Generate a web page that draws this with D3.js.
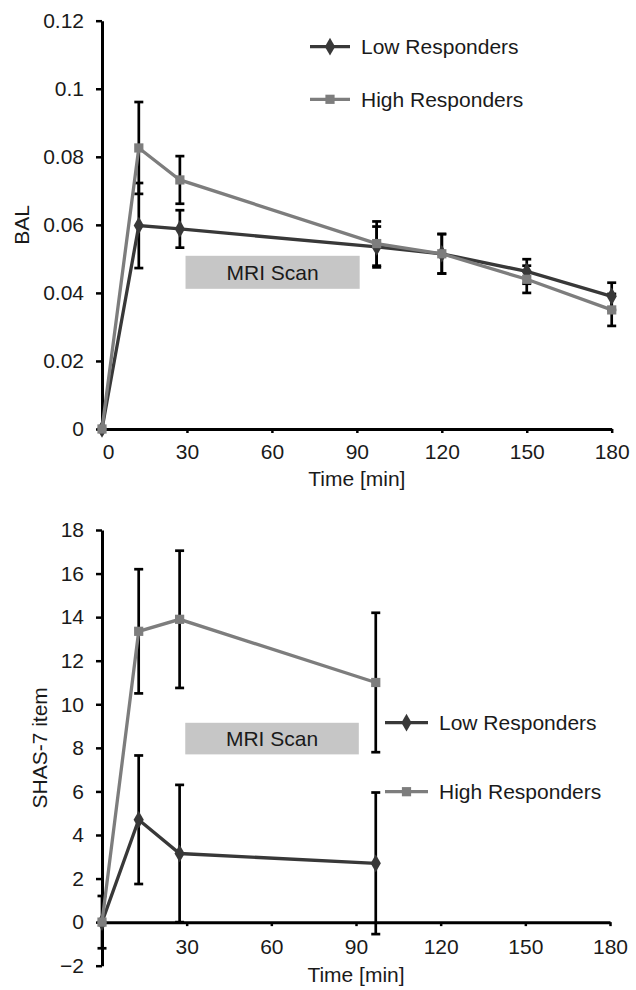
<!DOCTYPE html>
<html>
<head>
<meta charset="utf-8">
<script src="https://cdn.jsdelivr.net/npm/d3@7"></script>
<style>
  body { margin: 0; background: #fff; }
  svg text { font-family: "Liberation Sans", Arial, sans-serif; font-size: 21px; fill: #1a1a1a; }
  .axis path, .axis line { stroke: #000; }
</style>
</head>
<body>
<svg id="chart" width="636" height="990"></svg>
<script>
// time points (min)
var balTimes = [0, 13, 27.5, 97, 120, 150, 180];
var balLow = [0, 0.0598, 0.0588, 0.0535, 0.0515, 0.0463, 0.039];
var balLowErr = [0, 0.0125, 0.0055, 0.006, 0.0058, 0.0036, 0.004];
var balHigh = [0, 0.0826, 0.0732, 0.0545, 0.0515, 0.044, 0.035];
var balHighErr = [0, 0.0135, 0.007, 0.0065, 0.0058, 0.004, 0.0047];

var shasTimes = [0, 13, 27.5, 97];
var shasLow = [0, 4.7, 3.15, 2.7];
var shasLowErr = [1.2, 2.95, 3.15, 3.25];
var shasHigh = [0, 13.35, 13.9, 11.0];
var shasHighErr = [0, 2.85, 3.15, 3.2];

var xTicks = [0, 30, 60, 90, 120, 150, 180];
var balTicks = [0, 0.02, 0.04, 0.06, 0.08, 0.1, 0.12];
var shasTicks = [-2, 0, 2, 4, 6, 8, 10, 12, 14, 16, 18];
var seriesNames = ["Low Responders", "High Responders"];
var mriWindow = [29.5, 91];

var lowColor = "#383838", highColor = "#7d7d7d";
var svg = d3.select("#chart");

function zip(t, v, e) {
    return t.map(function(d, i) { return {t: d, v: v[i], e: e[i]}; });
}

function drawPanel(p) {
    var x = d3.scaleLinear().domain([0, 180]).range([102, p.xRight]);
    var y = d3.scaleLinear().domain(p.yDomain).range(p.yRange);
    var g = svg.append("g");

    // MRI scan box
    g.append("rect")
	.attr("x", x(mriWindow[0]))
	.attr("y", y(p.mriY[0]))
	.attr("width", x(mriWindow[1]) - x(mriWindow[0]))
	.attr("height", y(p.mriY[1]) - y(p.mriY[0]))
	.attr("fill", "#c6c6c6");
    g.append("text")
	.attr("x", (x(mriWindow[0]) + x(mriWindow[1])) / 2)
	.attr("y", (y(p.mriY[0]) + y(p.mriY[1])) / 2)
	.attr("dy", "0.35em")
	.attr("text-anchor", "middle")
	.text("MRI Scan");

    // axes
    var yAxis = g.append("g").attr("class", "axis")
	.attr("transform", "translate(102,0)")
	.call(d3.axisLeft(y).tickValues(p.yTicks).tickSize(6).tickSizeOuter(0)
	      .tickPadding(12).tickFormat(d3.format("~g")));
    var xAxis = g.append("g").attr("class", "axis")
	.attr("transform", "translate(0," + y(0) + ")")
	.call(d3.axisBottom(x).tickValues(p.xTicks).tickSize(4).tickSizeOuter(0)
	      .tickPadding(p.xPad));
    g.selectAll(".axis path").attr("stroke-width", 3);
    g.selectAll(".axis line").attr("stroke-width", 2.5);
    g.selectAll(".axis text").attr("fill", "#1a1a1a").style("font-size", "21px")
	.style("font-family", "Liberation Sans, Arial, sans-serif");
    if (p.xTicks[0] === 0)
	xAxis.selectAll(".tick text").filter(function(d) { return d === 0; }).attr("dx", 6);

    g.append("text")
	.attr("x", (102 + p.xRight) / 2)
	.attr("y", p.xTitleY)
	.attr("text-anchor", "middle")
	.text("Time [min]");
    g.append("text")
	.attr("transform", "translate(" + p.yTitleX + "," + (p.yRange[0] + p.yRange[1]) / 2 + ") rotate(-90)")
	.attr("text-anchor", "middle")
	.text(p.yTitle);

    var series = [
	{data: zip(p.times, p.low, p.lowErr), color: lowColor, sym: d3.symbolDiamond, size: 90},
	{data: zip(p.times, p.high, p.highErr), color: highColor, sym: d3.symbolSquare, size: 85}
    ];

    // error bars
    series.forEach(function(s) {
	var bars = g.append("g").selectAll("g")
	    .data(s.data.filter(function(d) { return d.e > 0; }))
	    .enter().append("g")
	    .attr("stroke", "#000").attr("stroke-width", 2.7);
	bars.append("line")
	    .attr("x1", function(d) { return x(d.t); })
	    .attr("x2", function(d) { return x(d.t); })
	    .attr("y1", function(d) { return y(d.v - d.e); })
	    .attr("y2", function(d) { return y(d.v + d.e); });
	[-1, 1].forEach(function(sign) {
	    bars.append("line")
		.attr("x1", function(d) { return x(d.t) - 4.5; })
		.attr("x2", function(d) { return x(d.t) + 4.5; })
		.attr("y1", function(d) { return y(d.v + sign * d.e); })
		.attr("y2", function(d) { return y(d.v + sign * d.e); });
	});
    });

    var line = d3.line().x(function(d) { return x(d.t); }).y(function(d) { return y(d.v); });
    series.forEach(function(s) {
	g.append("path")
	    .datum(s.data)
	    .attr("d", line)
	    .attr("fill", "none")
	    .attr("stroke", s.color)
	    .attr("stroke-width", 3.3);
	g.selectAll(null)
	    .data(s.data)
	    .enter().append("path")
	    .attr("transform", function(d) { return "translate(" + x(d.t) + "," + y(d.v) + ")"; })
	    .attr("d", d3.symbol().type(s.sym).size(s.size))
	    .attr("fill", s.color);
    });

    // legend
    series.forEach(function(s, i) {
	var ly = p.legendY[i];
	var lg = g.append("g");
	lg.append("line")
	    .attr("x1", p.legendX[0]).attr("x2", p.legendX[1])
	    .attr("y1", ly).attr("y2", ly)
	    .attr("stroke", s.color).attr("stroke-width", 3.3);
	lg.append("path")
	    .attr("transform", "translate(" + (p.legendX[0] + p.legendX[1]) / 2 + "," + ly + ")")
	    .attr("d", d3.symbol().type(s.sym).size(s.size))
	    .attr("fill", s.color);
	lg.append("text")
	    .attr("x", p.legendX[1] + 11)
	    .attr("y", ly)
	    .attr("dy", "0.35em")
	    .text(seriesNames[i]);
    });
}

drawPanel({
    times: balTimes, low: balLow, lowErr: balLowErr, high: balHigh, highErr: balHighErr,
    yDomain: [0, 0.12], yRange: [429, 20.7], yTicks: balTicks, yTitle: "BAL", yTitleX: 29,
    xTicks: xTicks, xRight: 611.7, xPad: 11, xTitleY: 486,
    mriY: [0.0509, 0.0412],
    legendX: [310, 350], legendY: [46.7, 99.3]
});

drawPanel({
    times: shasTimes, low: shasLow, lowErr: shasLowErr, high: shasHigh, highErr: shasHighErr,
    yDomain: [-2, 18], yRange: [965.7, 530], yTicks: shasTicks, yTitle: "SHAS-7 item", yTitleX: 47,
    xTicks: xTicks.slice(1), xRight: 610, xPad: 13, xTitleY: 982,
    mriY: [9.15, 7.7],
    legendX: [385, 428], legendY: [722.7, 791.7]
});
</script>
</body>
</html>
